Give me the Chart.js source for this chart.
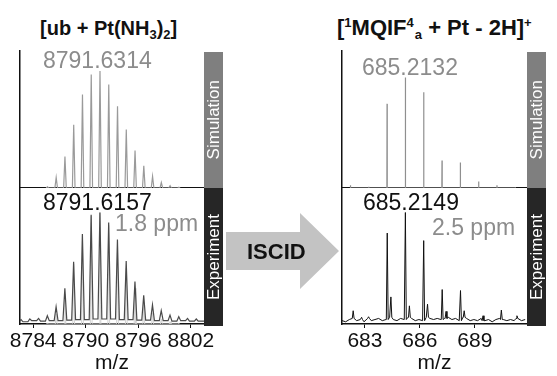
<!DOCTYPE html>
<html>
<head>
<meta charset="utf-8">
<script src="https://cdn.jsdelivr.net/npm/chart.js@4.4.1/dist/chart.umd.min.js"></script>
<style>
  body { margin: 0; width: 557px; height: 376px; background: #fff; position: relative; overflow: hidden;
         font-family: 'Liberation Sans', Arial, sans-serif; color: #111; }
  canvas, .txt, .bar, .arrow { position: absolute; }
  .txt { white-space: nowrap; line-height: 1; }
  .title { font-weight: bold; }
  .sp { font-size: 13px; position: relative; top: -8px; }
  .sb { font-size: 13px; position: relative; top: 4px; }
  .ann { font-size: 23px; }
  .gray { color: #8c8c8c; }
  .bar { display: flex; align-items: center; justify-content: center; color: #fff; font-size: 17px; }
  .bar span { writing-mode: vertical-rl; transform: rotate(180deg); white-space: nowrap; }
  .arrow { background: #c3c3c3; clip-path: polygon(0 19px, 74px 19px, 74px 0, 113px 38px, 74px 76px, 74px 57px, 0 57px); }
</style>
</head>
<body>
<canvas id="leftSim" width="230" height="138" style="left:0; top:50px"></canvas>
<canvas id="leftExp" width="230" height="184" style="left:0; top:188px"></canvas>
<canvas id="rightSim" width="237" height="138" style="left:320px; top:50px"></canvas>
<canvas id="rightExp" width="237" height="184" style="left:320px; top:188px"></canvas>

<div class="txt title" style="left:40px; top:18px; font-size:20px">[ub + Pt(NH<span class="sb">3</span>)<span class="sb">2</span>]</div>
<div class="txt title" style="left:337px; top:16.5px; font-size:22px">[<span class="sp">1</span>MQIF<span class="sp">4</span><span class="sb" style="margin-left:1px">a</span> + Pt - 2H]<span class="sp">+</span></div>

<div class="txt ann gray" style="left:43px; top:49px">8791.6314</div>
<div class="txt ann" style="left:43px; top:190.5px">8791.6157</div>
<div class="txt ann gray" style="left:115px; top:212px">1.8 ppm</div>
<div class="txt ann gray" style="left:362px; top:55.5px">685.2132</div>
<div class="txt ann" style="left:363px; top:190.5px">685.2149</div>
<div class="txt ann gray" style="left:432px; top:215.5px">2.5 ppm</div>

<div class="bar" style="left:204px; top:52px; width:19px; height:136px; background:#7f7f7f"><span>Simulation</span></div>
<div class="bar" style="left:204px; top:188px; width:19px; height:138px; background:#262626"><span>Experiment</span></div>
<div class="bar" style="left:527px; top:52px; width:19px; height:136px; background:#7f7f7f"><span>Simulation</span></div>
<div class="bar" style="left:527px; top:188px; width:19px; height:138px; background:#262626"><span>Experiment</span></div>

<div class="arrow" style="left:226px; top:213px; width:113px; height:76px"></div>
<div class="txt" style="left:247px; top:240.5px; font-size:22px; font-weight:bold">ISCID</div>

<script>
Chart.defaults.font.family = "'Liberation Sans', Arial, sans-serif";
Chart.defaults.color = '#111';

// intact ubiquitin + Pt(NH3)2, isotope peaks (relative intensity)
const leftSimMz = [8785.63, 8786.63, 8787.63, 8788.63, 8789.63, 8790.63, 8791.63, 8792.63,
                   8793.63, 8794.63, 8795.63, 8796.63, 8797.63, 8798.63, 8799.63, 8800.63];
const leftSimInt = [0.01, 0.09, 0.27, 0.54, 0.80, 0.97, 1.0, 0.885, 0.70, 0.50, 0.32, 0.19, 0.10, 0.046, 0.02, 0.006];

const leftExpMz = [8782.62, 8783.62, 8784.62, 8785.62, 8786.62, 8787.62, 8788.62, 8789.62, 8790.62, 8791.62, 8792.62,
                   8793.62, 8794.62, 8795.62, 8796.62, 8797.62, 8798.62, 8799.62, 8800.62, 8801.62, 8802.62];
const leftExpInt = [0.04, 0.045, 0.05, 0.074, 0.154, 0.32, 0.558, 0.807, 0.979, 1.0, 0.911,
                    0.757, 0.564, 0.38, 0.258, 0.172, 0.119, 0.08, 0.065, 0.05, 0.045];
// baseline level in the gaps (before first peak, between peaks, after last peak)
const leftExpValley = [0.025, 0.02, 0.03, 0.025, 0.03, 0.03, 0.035, 0.04, 0.04, 0.045, 0.045,
                       0.045, 0.04, 0.04, 0.035, 0.035, 0.03, 0.03, 0.025, 0.03, 0.025, 0.025];
const leftTicks = [8784, 8790, 8796, 8802];

// fragment [1MQIF4a + Pt - 2H]+
const rightSimMz = [682.21, 683.21, 684.21, 685.21, 686.21, 687.21, 688.21, 689.21, 690.21, 691.21];
const rightSimInt = [0.024, 0.012, 0.762, 1.0, 0.867, 0.25, 0.23, 0.06, 0.024, 0.006];

const rightExpMz = [682.36, 682.82, 683.2, 684.22, 684.42, 685.21, 685.43, 686.21, 686.42,
                    687.22, 687.43, 688.22, 688.42, 689.45, 690.45, 691.3];
const rightExpInt = [0.119, 0.06, 0.065, 0.816, 0.243, 1.0, 0.163, 0.748, 0.178,
                     0.309, 0.113, 0.30, 0.119, 0.074, 0.125, 0.074];
// noise floor, read every 0.2 m/z from 681.75
const rightNoiseStart = 681.75;
const rightNoiseStep = 0.2;
const rightNoise = [0.03, 0.02, 0.04, 0.05, 0.03, 0.04, 0.02, 0.05, 0.03, 0.04, 0.05, 0.03, 0.04,
                    0.06, 0.04, 0.03, 0.05, 0.04, 0.06, 0.05, 0.03, 0.04, 0.03, 0.06, 0.05, 0.04,
                    0.05, 0.04, 0.05, 0.06, 0.04, 0.05, 0.03, 0.06, 0.05, 0.03, 0.04, 0.03, 0.05,
                    0.03, 0.04, 0.02, 0.04, 0.05, 0.04, 0.03, 0.04, 0.03, 0.05, 0.03, 0.04];
const rightTicks = [683, 686, 689];

// narrow peaks standing on zero
function spikes(mz, ints, half) {
  const pts = [];
  mz.forEach((m, i) => pts.push({x: m - half, y: 0}, {x: m, y: ints[i]}, {x: m + half, y: 0}));
  return pts;
}

// peaks joined by baseline gaps
function profile(mz, ints, valleys, half, xMax) {
  const pts = [];
  mz.forEach((m, i) => pts.push({x: m - half, y: valleys[i]}, {x: m, y: ints[i]}, {x: m + half, y: valleys[i + 1]}));
  pts.push({x: xMax, y: valleys[valleys.length - 1]});
  return pts;
}

// noise floor with sharp peaks put in
function noisy(mz, ints, noise, start, step, half) {
  const pts = [];
  noise.forEach((v, i) => {
    const x = start + i * step;
    if (!mz.some(m => Math.abs(m - x) <= half)) pts.push({x: x, y: v});
  });
  mz.forEach((m, i) => {
    const j = Math.min(noise.length - 1, Math.max(0, Math.round((m - start) / step)));
    pts.push({x: m - half, y: noise[j]}, {x: m, y: ints[i]}, {x: m + half, y: noise[j]});
  });
  return pts.sort((a, b) => a.x - b.x);
}

function panel(id, xMin, xMax, yMax, datasets, ticks, pad) {
  const xAxis = {
    type: 'linear', min: xMin, max: xMax,
    border: {display: true, color: '#111', width: 1.5},
    ticks: {display: false},
    grid: {display: false, drawTicks: false}
  };
  if (ticks) {
    xAxis.ticks = {display: true, font: {size: 21, lineHeight: 1.2}, color: '#111', padding: 1,
                   maxRotation: 0, autoSkip: false, callback: v => String(v)};
    xAxis.grid = {display: true, drawOnChartArea: false, drawTicks: true, tickLength: 4, color: '#111', lineWidth: 1};
    xAxis.afterBuildTicks = s => { s.ticks = ticks.map(v => ({value: v})); };
    xAxis.title = {display: true, text: 'm/z', color: '#111', font: {size: 21, lineHeight: 0.8}, padding: 0};
  }
  return new Chart(document.getElementById(id), {
    type: 'line',
    data: {datasets: datasets},
    options: {
      responsive: false, animation: false, devicePixelRatio: 1,
      layout: {padding: pad},
      plugins: {legend: {display: false}, tooltip: {enabled: false}},
      elements: {point: {radius: 0}, line: {tension: 0}},
      scales: {
        x: xAxis,
        y: {min: 0, max: yMax, ticks: {display: false}, grid: {display: false, drawTicks: false},
            border: {display: true, color: '#111', width: 1.5}}
      }
    }
  });
}

const leftPad = {left: 20, right: 26, top: 0, bottom: 0};
const rightPad = {left: 22, right: 30, top: 0, bottom: 0};

panel('leftSim', 8782.5, 8803.5, 1.18, [
  {data: spikes(leftSimMz, leftSimInt, 0.15), borderColor: '#9a9a9a', borderWidth: 1.2}
], null, leftPad);

panel('leftExp', 8782.5, 8803.5, 1.22, [
  {data: profile(leftExpMz, leftExpInt, leftExpValley, 0.22, 8803.5), borderColor: '#4a4a4a', borderWidth: 1.2},
  {data: spikes(leftSimMz, leftSimInt, 0.1), borderColor: '#d2d2d2', borderWidth: 1}
], leftTicks, leftPad);

panel('rightSim', 681.75, 691.85, 1.25, [
  {data: spikes(rightSimMz, rightSimInt, 0.01), borderColor: '#8f8f8f', borderWidth: 1.2}
], null, rightPad);

panel('rightExp', 681.75, 691.85, 1.22, [
  {data: noisy(rightExpMz, rightExpInt, rightNoise, rightNoiseStart, rightNoiseStep, 0.05), borderColor: '#111', borderWidth: 1}
], rightTicks, rightPad);
</script>
</body>
</html>
